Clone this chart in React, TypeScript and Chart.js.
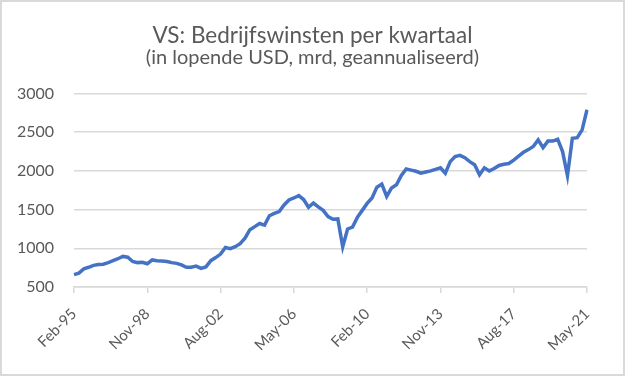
import React, { useEffect, useRef } from "react";
import { Chart, registerables } from "chart.js";

Chart.register(...registerables);

const categories: string[] = [
  "Feb-95", "May-95", "Aug-95", "Nov-95", "Feb-96", "May-96", "Aug-96", "Nov-96",
  "Feb-97", "May-97", "Aug-97", "Nov-97", "Feb-98", "May-98", "Aug-98", "Nov-98",
  "Feb-99", "May-99", "Aug-99", "Nov-99", "Feb-00", "May-00", "Aug-00", "Nov-00",
  "Feb-01", "May-01", "Aug-01", "Nov-01", "Feb-02", "May-02", "Aug-02", "Nov-02",
  "Feb-03", "May-03", "Aug-03", "Nov-03", "Feb-04", "May-04", "Aug-04", "Nov-04",
  "Feb-05", "May-05", "Aug-05", "Nov-05", "Feb-06", "May-06", "Aug-06", "Nov-06",
  "Feb-07", "May-07", "Aug-07", "Nov-07", "Feb-08", "May-08", "Aug-08", "Nov-08",
  "Feb-09", "May-09", "Aug-09", "Nov-09", "Feb-10", "May-10", "Aug-10", "Nov-10",
  "Feb-11", "May-11", "Aug-11", "Nov-11", "Feb-12", "May-12", "Aug-12", "Nov-12",
  "Feb-13", "May-13", "Aug-13", "Nov-13", "Feb-14", "May-14", "Aug-14", "Nov-14",
  "Feb-15", "May-15", "Aug-15", "Nov-15", "Feb-16", "May-16", "Aug-16", "Nov-16",
  "Feb-17", "May-17", "Aug-17", "Nov-17", "Feb-18", "May-18", "Aug-18", "Nov-18",
  "Feb-19", "May-19", "Aug-19", "Nov-19", "Feb-20", "May-20", "Aug-20", "Nov-20",
  "Feb-21", "May-21",
];

const profits: number[] = [
  660, 680, 735, 755, 780, 790, 795, 815,
  840, 865, 895, 885, 830, 815, 820, 800,
  850, 840, 835, 830, 815, 805, 785, 755,
  755, 770, 740, 760, 840, 880, 925, 1010,
  995, 1020, 1060, 1130, 1240, 1280, 1320, 1300,
  1420, 1450, 1475, 1560, 1625, 1650, 1680, 1630,
  1530, 1585, 1535, 1490, 1410, 1375, 1380, 1020,
  1250, 1275, 1400, 1490, 1580, 1650, 1790, 1830,
  1670, 1780, 1820, 1940, 2025, 2010, 1995, 1970,
  1985, 2000, 2020, 2040, 1970, 2120, 2185, 2200,
  2170, 2120, 2080, 1950, 2040, 2000, 2030, 2070,
  2085, 2095, 2140, 2190, 2240, 2275, 2315, 2400,
  2300, 2385, 2385, 2410, 2250, 1940, 2420, 2430,
  2530, 2790,
];

const tickLabels: string[] = ["Feb-95", "Nov-98", "Aug-02", "May-06", "Feb-10", "Nov-13", "Aug-17", "May-21"];

const yTicks: number[] = [500, 1000, 1500, 2000, 2500, 3000];

const title = "VS: Bedrijfswinsten per kwartaal";
const subtitle = "(in lopende USD, mrd, geannualiseerd)";

export default function App() {
  const ref = useRef<HTMLCanvasElement>(null);

  useEffect(() => {
    document.body.style.margin = "0";
    const ctx = ref.current!;
    const textColor = "#595959";
    const font = "Lato, 'Open Sans', sans-serif";
    const chart = new Chart(ctx, {
      type: "line",
      data: {
        labels: categories,
        datasets: [
          {
            data: profits,
            borderColor: "#4472C4",
            borderWidth: 3.5,
            pointRadius: 0,
            tension: 0,
            fill: false,
            yAxisID: "y",
          },
        ],
      },
      options: {
        animation: false,
        responsive: false,
        maintainAspectRatio: false,
        layout: { padding: { left: 0, right: 0, top: 0, bottom: 0 } },
        plugins: {
          legend: { display: false },
          tooltip: { enabled: false },
          title: {
            display: true,
            text: title,
            color: textColor,
            font: { family: font, size: 22.5, weight: "normal", lineHeight: 1 },
            padding: { top: 24, bottom: 0 },
          },
          subtitle: {
            display: true,
            text: subtitle,
            color: textColor,
            font: { family: font, size: 20, weight: "normal", lineHeight: 1 },
            padding: { top: 1, bottom: 26 },
          },
        },
        scales: {
          x: {
            type: "category",
            offset: false,
            grid: {
              drawOnChartArea: false,
              drawTicks: true,
              tickLength: 6,
              color: "#d9d9d9",
              lineWidth: 1.5,
            },
            border: { display: true, color: "#d9d9d9", width: 1.5 },
            ticks: {
              autoSkip: false,
              maxRotation: 45,
              minRotation: 45,
              color: textColor,
              padding: 12,
              font: { family: font, size: 15 },
              callback: (_v: any, idx: number) =>
                tickLabels.includes(categories[idx]) ? categories[idx] : null,
            },
            afterFit: (scale: any) => {
              scale.height = 89;
            },
          },
          y: {
            position: "left",
            min: yTicks[0],
            max: yTicks[yTicks.length - 1],
            afterBuildTicks: (scale: any) => {
              scale.ticks = yTicks.map((v) => ({ value: v }));
            },
            grid: { drawTicks: false, color: "#d9d9d9", lineWidth: 1.5 },
            border: { display: false },
            ticks: {
              color: textColor,
              padding: 20,
              font: { family: font, size: 16 },
              callback: (v: any) => String(v),
            },
            afterFit: (scale: any) => {
              scale.width = 74;
            },
          },
          yRight: {
            type: "linear",
            position: "right",
            display: true,
            min: yTicks[0],
            max: yTicks[yTicks.length - 1],
            grid: { display: false, drawTicks: false },
            border: { display: false },
            ticks: { display: false },
            afterFit: (scale: any) => {
              scale.width = 38;
            },
          },
        },
      },
    });
    return () => chart.destroy();
  }, []);

  return (
    <div style={{ position: "relative", width: 625, height: 376, background: "#fff" }}>
      <canvas ref={ref} width={625} height={376} style={{ display: "block" }} />
      <div
        style={{
          position: "absolute",
          left: 0,
          top: 0,
          width: 625,
          height: 376,
          boxSizing: "border-box",
          border: "2px solid #d9d9d9",
          pointerEvents: "none",
        }}
      />
    </div>
  );
}
